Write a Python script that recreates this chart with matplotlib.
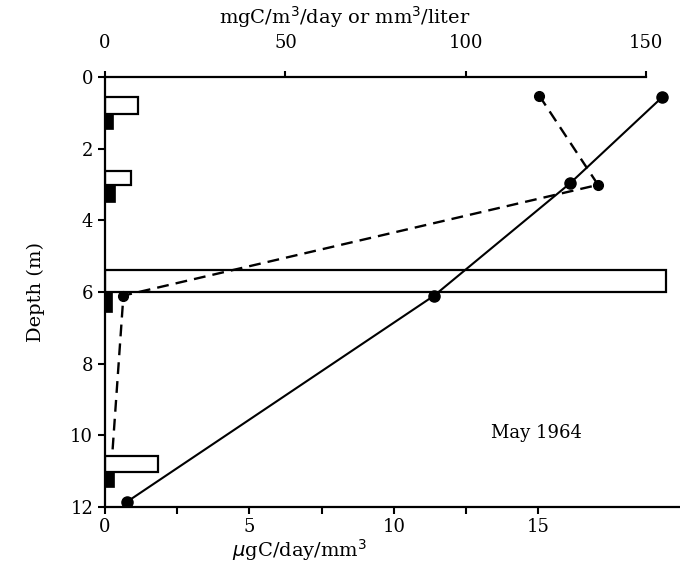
import numpy as np
import matplotlib.pyplot as plt

# Depth profiles, May 1964
# ratio in ugC/day/mm3 (bottom axis), production in mgC/m3/day (top axis)
ratio_depth = [0.56, 2.97, 6.1, 11.85]
ratio_val = [19.3, 16.1, 11.4, 0.77]

prod_depth = [0.52, 3.01, 6.1, 10.55]
prod_val = [120.3, 136.6, 5.1, 2.0]

# bars: open = mm3/liter (top axis units), filled = small companion bars
open_top = [0.55, 2.63, 5.39, 10.58]
open_bot = [1.03, 3.02, 6.0, 11.02]
open_val = [9.1, 7.2, 155.4, 14.7]

fill_top = [1.03, 3.02, 6.0, 11.02]
fill_bot = [1.46, 3.49, 6.56, 11.44]
fill_val = [2.2, 2.8, 1.9, 2.5]

scale = 8.0  # top units per bottom unit
xmax_top = 159.3

plt.rcParams['font.family'] = ['DejaVu Serif']

fig = plt.figure(figsize=(6.8, 5.71), dpi=100)
ax = fig.add_axes([105/680, 64/571, 575/680, 430/571])
ax2 = ax.twiny()

# bars on the top-unit axis
for t, b, v in zip(open_top, open_bot, open_val):
    ax2.barh((t + b) / 2, v, height=b - t, left=0, facecolor='none',
             edgecolor='black', linewidth=1.6, zorder=1)
for t, b, v in zip(fill_top, fill_bot, fill_val):
    ax2.barh((t + b) / 2, v, height=b - t, left=0, facecolor='black',
             edgecolor='black', linewidth=0.5, zorder=1)

ax2.plot(prod_val, prod_depth, color='black', lw=1.7, ls=(0, (5, 3)),
         marker='o', ms=7, markevery=[0, 1, 2], zorder=3)
ax.plot(ratio_val, ratio_depth, color='black', lw=1.5,
        marker='o', ms=8, zorder=3)

ax.set_xlim(0, xmax_top / scale)
ax2.set_xlim(0, xmax_top)
ax.set_ylim(12, 0)

ax.set_yticks(np.arange(0, 13, 2))
ax.set_xticks(np.arange(0, 16, 2.5))
ax.set_xticklabels(['0', '', '5', '', '10', '', '15'])
ax2.set_xticks([0, 50, 100, 150])

# only left, bottom and (short) top lines
ax.spines['right'].set_visible(False)
ax.spines['top'].set_visible(False)
ax2.spines['right'].set_visible(False)
ax2.spines['left'].set_visible(False)
ax2.spines['bottom'].set_visible(False)
ax2.spines['top'].set_bounds(0, 150)
ax.spines['left'].set_bounds(0, 12)
for a in (ax, ax2):
    for s in a.spines.values():
        s.set_linewidth(1.6)

ax.tick_params(axis='both', labelsize=13, width=1.5, length=5)
ax.tick_params(axis='x', pad=3)
ax2.tick_params(axis='x', labelsize=13, width=1.5, length=4, pad=14)

ax.set_ylabel('Depth (m)', fontsize=14, labelpad=18)
ax.set_xlabel(r'$\mu$gC/day/mm$^3$', fontsize=14, labelpad=1)
ax2.set_xlabel('mgC/m$^3$/day or mm$^3$/liter', fontsize=14, labelpad=7)
ax2.xaxis.label.set_x(240/575)

ax.text(536, 571 - 433, 'May 1964', transform=None, fontsize=13,
        ha='center', va='center')
ax.xaxis.label.set_x(195/575)

fig.savefig('out.png', dpi=100)
